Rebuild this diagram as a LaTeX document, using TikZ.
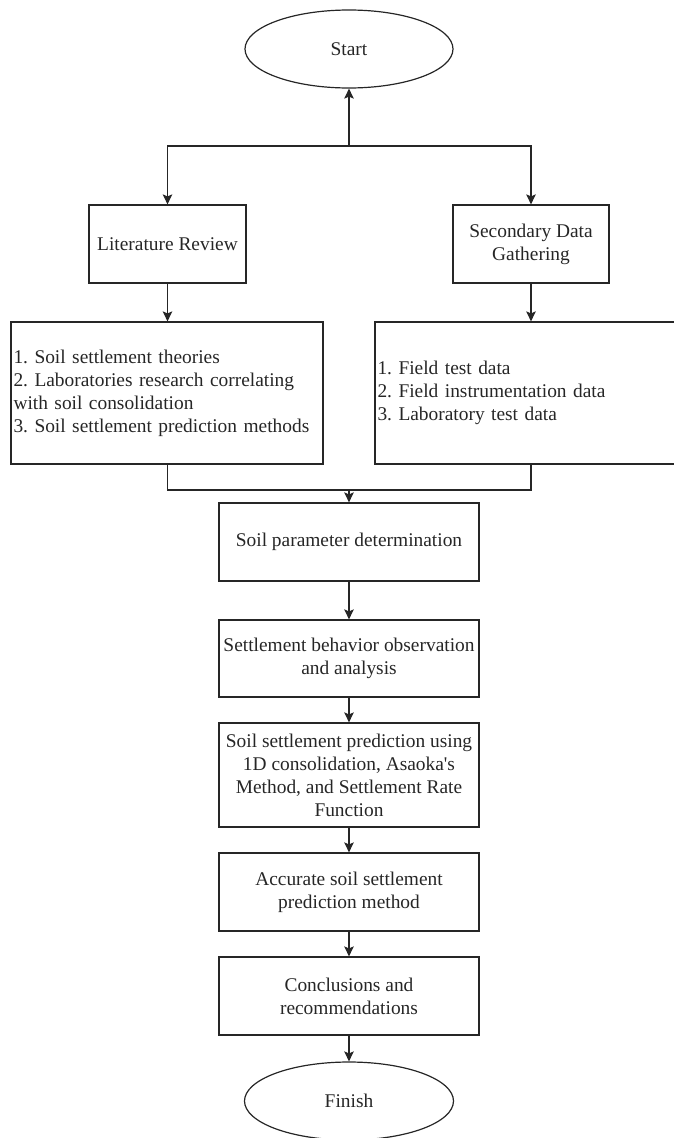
\documentclass[tikz,border=0pt]{standalone}
\usepackage{fontspec}
\setmainfont{Liberation Serif}
\usetikzlibrary{arrows.meta,shapes.geometric}
\tikzset{
  txt/.style={text=black!85, font=\frenchspacing\fontsize{19.4}{23}\selectfont},
  box/.style={txt, draw=black!85, line width=1.2pt, rectangle, minimum width=260pt, minimum height=78pt, align=center, inner sep=1pt},
  oval/.style={txt, draw=black!85, line width=1.2pt, ellipse, minimum width=208pt, minimum height=78pt, inner sep=0pt},
  listbox/.style={txt, draw=black!85, line width=1.2pt, rectangle, minimum width=312pt, minimum height=142pt, text width=307pt, align=left, inner xsep=2.5pt, inner ysep=2pt},
  arr/.style={draw=black!85, line width=1.2pt, -{Stealth[length=10pt,width=9.5pt,inset=2pt]}},
  ln/.style={draw=black!85, line width=1.2pt}
}
\begin{document}
\begin{tikzpicture}[x=1pt,y=-1pt]
\useasboundingbox (0,0) rectangle (674,1138);
\node[oval] (start) at (349,49) {Start};
\node[box, minimum width=157pt] (lit) at (167.5,244) {Literature Review};
\node[box, minimum width=156pt] (sec) at (531,244) {Secondary Data\\Gathering};
\node[listbox] (lbig) at (167,393) {1. Soil settlement theories\\2. Laboratories research correlating\\with soil consolidation\\3. Soil settlement prediction methods};
\node[listbox] (rbig) at (531,393) {1. Field test data\\2. Field instrumentation data\\3. Laboratory test data};
\node[box] (param) at (349,542) {Soil parameter determination};
\node[box, minimum height=77pt] (behav) at (349,658.5) {Settlement behavior observation\\and analysis};
\node[box, minimum height=104pt] (pred) at (349,775) {Soil settlement prediction using\\1D consolidation, Asaoka\textquotesingle s\\Method, and Settlement Rate\\Function};
\node[box] (acc) at (349,892) {Accurate soil settlement\\prediction method};
\node[box] (concl) at (349,996) {Conclusions and\\recommendations};
\node[oval, minimum width=209pt] (finish) at (349,1101) {Finish};
\coordinate (jt) at (349,146);
\coordinate (jb) at (349,490);
\draw[arr] (jt) -- (start.south);
\draw[arr] (jt) -| (lit.north);
\draw[arr] (jt) -| (sec.north);
\draw[arr] (lit.south) -- (lit.south |- lbig.north);
\draw[arr] (sec.south) -- (sec.south |- rbig.north);
\draw[ln] (lit.south |- lbig.south) |- (jb);
\draw[ln] (sec.south |- rbig.south) |- (jb);
\draw[arr] (jb) -- (param.north);
\draw[arr] (param) -- (behav);
\draw[arr] (behav) -- (pred);
\draw[arr] (pred) -- (acc);
\draw[arr] (acc) -- (concl);
\draw[arr] (concl) -- (finish);
\end{tikzpicture}
\end{document}
